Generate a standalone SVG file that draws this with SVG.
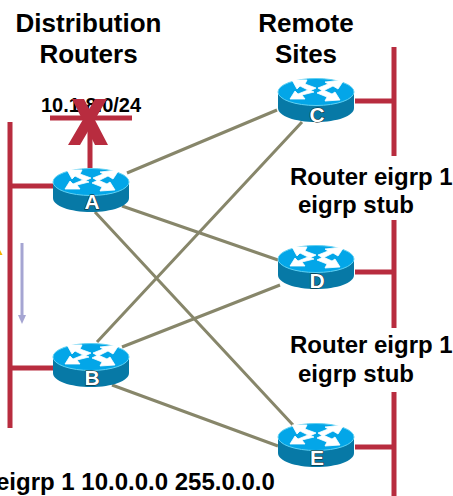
<svg xmlns="http://www.w3.org/2000/svg" width="453" height="496" viewBox="0 0 453 496">
<style>
text{font-family:"Liberation Sans",Arial,sans-serif;font-weight:bold;fill:#000}
.h{font-size:26px;text-anchor:middle}
.t{font-size:24px}
.n{font-size:21px;fill:#fff;text-anchor:middle;stroke:#0a1a20;stroke-width:1px;paint-order:stroke}
.r{stroke:#b82c3f;stroke-width:5;fill:none}
.l{stroke:#87866a;stroke-width:3;fill:none}
</style>
<defs>
<g id="router">
<path d="M-38 0V16C-38 24-21 30 0 30S38 24 38 16V0Z" fill="#0779a6"/>
<ellipse cx="0" cy="0" rx="38" ry="13.500" fill="#03a6e8" stroke="#5fd0f2" stroke-width="1"/>
<g fill="#fff" stroke="#fff" stroke-width=".8">
<path d="M-24-12-9-12-11-8 0-4-6-1-16-6-19-3Z"/>
<path d="M28-12 9-10 12-8 2-4 7-1 17-6 22-3Z"/>
<path d="M-26 7-11 7-14 3-2 0-8-2-18 2-21-1Z"/>
<path d="M24 8 9 9 11 5 1 1 7-2 16 2 19 0Z"/>
</g>
</g>
</defs>
<g id="connectors">
<path class="l" d="M127 173 277 110M122 206 278 260M95 212 293 425M97 342 302 122M122 347 280 285M112 385 278 446"/>
<path class="r" d="M10 122V428M10 186H55M10 368H55M90 170V120M50 118H132M355 101H394M394 47V156M355 272H394M394 220V328M355 447H394M394 392V496"/>
<path d="M22 243V317" stroke="#a5a5d2" stroke-width="3" fill="none"/>
<path d="M18 315H26L22 324Z" fill="#a5a5d2"/>
<path d="M0 250 2.500 255H0Z" fill="#f4b400"/>
</g>
<g id="label-distribution"><text class="h" x="88.500" y="32">Distribution</text><text class="h" x="88.500" y="63">Routers</text></g>
<g id="label-remote"><text class="h" x="306" y="32">Remote</text><text class="h" x="306" y="63">Sites</text></g>
<g id="label-network"><text x="41" y="112" font-size="20">10.1.8.0/24</text></g>
<g id="x-mark"><path d="M72 99H84L108 145H95Z M95 99H107L80 145H68Z" fill="#b82c3f"/></g>
<g id="node-a"><use href="#router" x="91" y="182"/><text class="n" x="92" y="209">A</text></g>
<g id="node-b"><use href="#router" x="91" y="357"/><text class="n" x="92" y="385">B</text></g>
<g id="node-c"><use href="#router" x="316" y="92"/><text class="n" x="317" y="122">C</text></g>
<g id="node-d"><use href="#router" x="316" y="259"/><text class="n" x="317" y="288">D</text></g>
<g id="node-e"><use href="#router" x="316" y="437"/><text class="n" x="317" y="465">E</text></g>
<g id="label-stub1"><text class="t" x="290" y="185">Router eigrp 1</text><text class="t" x="298" y="213">eigrp stub</text></g>
<g id="label-stub2"><text class="t" x="290" y="353">Router eigrp 1</text><text class="t" x="298" y="382">eigrp stub</text></g>
<g id="label-network-cmd"><text class="t" x="-4" y="490">eigrp 1 10.0.0.0 255.0.0.0</text></g>
</svg>
